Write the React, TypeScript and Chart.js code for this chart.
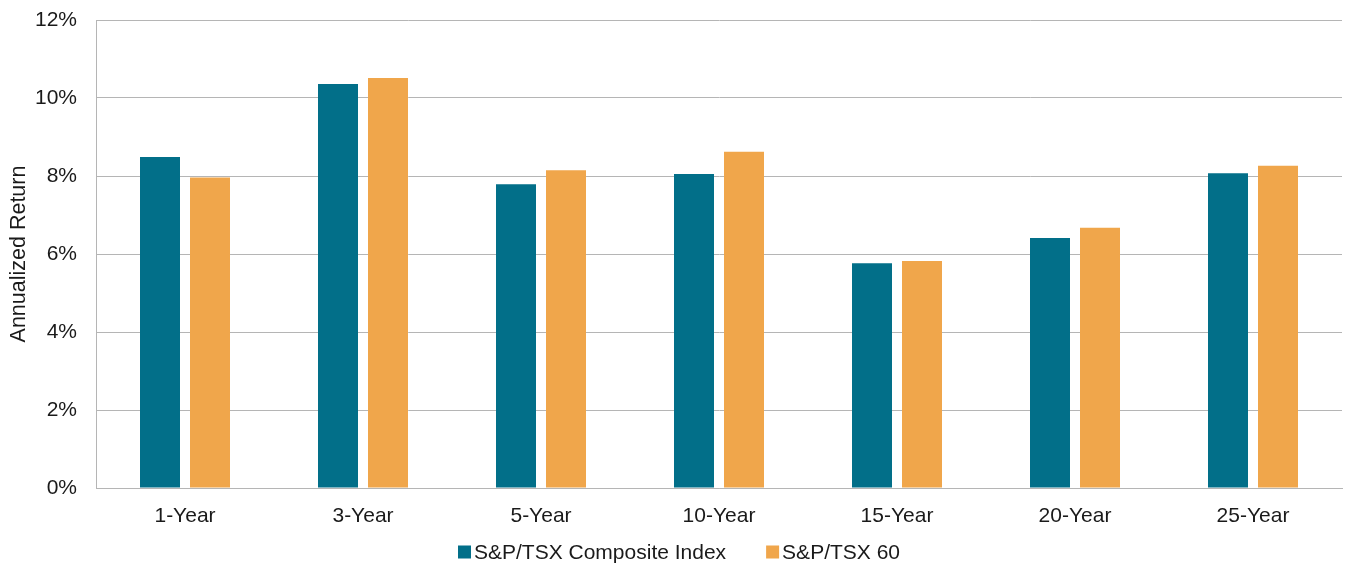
import React, { useEffect, useRef } from "react";
import { Chart, registerables } from "chart.js";

Chart.register(...registerables);

const categories = ["1-Year", "3-Year", "5-Year", "10-Year", "15-Year", "20-Year", "25-Year"];
const compositeValues = [8.49, 10.36, 7.79, 8.05, 5.76, 6.41, 8.07];
const tsx60Values = [7.96, 10.51, 8.15, 8.62, 5.82, 6.67, 8.26];
const seriesNames = ["S&P/TSX Composite Index", "S&P/TSX 60"];
const yAxisTitle = "Annualized Return";

const FONT = "'Liberation Sans', Arial, Helvetica, sans-serif";
const TEXT = "#1a1a1a";
const GRID = "#b5b5b5";
const FS = 21;

const bottomLegend = {
  id: "bottomLegend",
  afterDraw(chart: any) {
    const ctx = chart.ctx as CanvasRenderingContext2D;
    ctx.save();
    ctx.font = `${FS}px ${FONT}`;
    ctx.textBaseline = "middle";
    ctx.textAlign = "left";
    const box = 13;
    const gapText = 3;
    const gapItem = 40;
    const items = chart.data.datasets.map((d: any) => ({
      label: d.label as string,
      color: d.backgroundColor as string,
      w: ctx.measureText(d.label).width,
    }));
    const total =
      items.reduce((s: number, it: any) => s + box + gapText + it.w, 0) + gapItem * (items.length - 1);
    let x = chart.width / 2 + 6 - total / 2;
    const y = chart.height - 11;
    for (const it of items) {
      ctx.fillStyle = it.color;
      ctx.fillRect(x, y - box / 2, box, box);
      x += box + gapText;
      ctx.fillStyle = TEXT;
      ctx.fillText(it.label, x, y + 1);
      x += it.w + gapItem;
    }
    ctx.restore();
  },
};

export default function App() {
  const ref = useRef<HTMLCanvasElement | null>(null);

  useEffect(() => {
    document.body.style.margin = "0";
    const canvas = ref.current;
    if (!canvas) return;
    const chart = new Chart(canvas, {
      type: "bar",
      data: {
        labels: categories,
        datasets: [
          {
            label: seriesNames[0],
            data: compositeValues,
            backgroundColor: "#026f89",
            categoryPercentage: 100 / 178,
            barPercentage: 0.8,
          },
          {
            label: seriesNames[1],
            data: tsx60Values,
            backgroundColor: "#f0a64b",
            categoryPercentage: 100 / 178,
            barPercentage: 0.8,
          },
        ],
      },
      plugins: [bottomLegend],
      options: {
        animation: false,
        responsive: false,
        maintainAspectRatio: false,
        layout: { autoPadding: false, padding: { top: 20, right: 4, left: 0, bottom: 35 } },
        plugins: {
          tooltip: { enabled: false },
          legend: { display: false },
        },
        scales: {
          x: {
            afterFit: (scale: any) => {
              scale.height = 40;
            },
            grid: { display: false, drawTicks: false },
            border: { display: true, color: GRID, width: 1 },
            ticks: {
              color: TEXT,
              font: { family: FONT, size: FS },
              padding: 16,
            },
          },
          y: {
            min: 0,
            max: 12,
            afterFit: (scale: any) => {
              scale.width = 96;
              scale.paddingTop = 0;
              scale.paddingBottom = 0;
            },
            grid: { color: GRID, lineWidth: 1, drawTicks: false },
            border: { display: true, color: GRID, width: 1 },
            ticks: {
              stepSize: 2,
              color: TEXT,
              font: { family: FONT, size: FS },
              padding: 19,
              callback: (v: any) => `${v}%`,
            },
            title: {
              display: true,
              text: yAxisTitle,
              color: TEXT,
              font: { family: FONT, size: 21.5 },
              padding: { top: 6, bottom: 0 },
            },
          },
        },
      },
    });
    return () => chart.destroy();
  }, []);

  return (
    <div style={{ position: "absolute", left: 0, top: 0, width: 1346, height: 563 }}>
      <canvas ref={ref} width={1346} height={563} style={{ width: 1346, height: 563 }} />
    </div>
  );
}
